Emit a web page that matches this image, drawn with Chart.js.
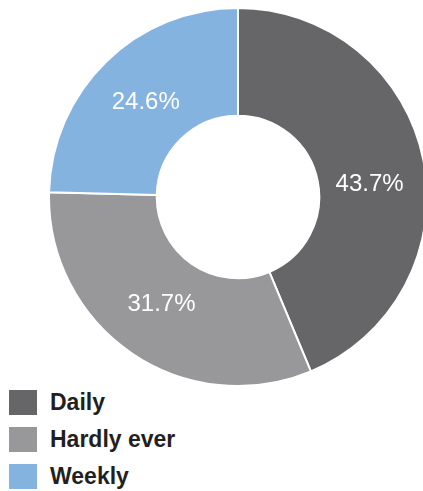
<!DOCTYPE html>
<html>
<head>
<meta charset="utf-8">
<script src="https://cdn.jsdelivr.net/npm/chart.js@4/dist/chart.umd.min.js"></script>
<style>
  html, body { margin: 0; padding: 0; background: #fff; overflow: hidden; }
  body { width: 423px; height: 491px; position: relative; font-family: "Liberation Sans", Arial, sans-serif; }
  .chart-box { position: absolute; left: 48px; top: 7px; width: 380px; height: 380px; }
  .legend { position: absolute; left: 9px; top: 390px; }
  .legend-item { display: flex; align-items: center; height: 25px; margin-bottom: 12px; }
  .legend-box { width: 28px; height: 25px; margin-right: 13px; }
  .legend-text { font-size: 23px; font-weight: bold; color: #231f20; }
</style>
</head>
<body>
<div class="chart-box"><canvas id="myChart" width="380" height="380"></canvas></div>
<div class="legend" id="legend"></div>
<script>
const kategooriad = ["Daily", "Hardly ever", "Weekly"];
const protsendid = [43.7, 31.7, 24.6];
const värvid = ["#666668", "#98989b", "#85b3df"];

// silt Daily on pildil natuke allapoole nihutatud
const sildiNihe = [6, 1, 0];

const sildiPlugin = {
  id: "sildid",
  afterDatasetsDraw(chart) {
    const ctx = chart.ctx;
    const meta = chart.getDatasetMeta(0);
    ctx.save();
    ctx.fillStyle = "#ffffff";
    ctx.font = "24px 'Liberation Sans', Arial, sans-serif";
    ctx.textAlign = "center";
    ctx.textBaseline = "middle";
    meta.data.forEach((arc, i) => {
      const p = arc.getProps(["x", "y", "startAngle", "endAngle", "innerRadius", "outerRadius"], true);
      const nurk = (p.startAngle + p.endAngle) / 2 + (sildiNihe[i] * Math.PI) / 180;
      const r = (p.innerRadius + p.outerRadius) / 2 - 3;
      ctx.fillText(protsendid[i].toFixed(1) + "%", p.x + Math.cos(nurk) * r, p.y + Math.sin(nurk) * r);
    });
    ctx.restore();
  },
};

const ctx = document.getElementById("myChart").getContext("2d");
const myChart = new Chart(ctx, {
  type: "doughnut",
  data: {
    labels: kategooriad,
    datasets: [
      {
        data: protsendid,
        backgroundColor: värvid,
        borderColor: "#ffffff",
        borderWidth: 2,
      },
    ],
  },
  options: {
    responsive: false,
    animation: false,
    cutout: "43%",
    layout: { padding: 0 },
    plugins: {
      legend: { display: false },
      tooltip: { enabled: false },
    },
  },
  plugins: [sildiPlugin],
});

const legend = document.getElementById("legend");
kategooriad.forEach((nimi, i) => {
  const rida = document.createElement("div");
  rida.className = "legend-item";
  rida.innerHTML =
    '<div class="legend-box" style="background:' + värvid[i] + '"></div><span class="legend-text">' + nimi + "</span>";
  legend.appendChild(rida);
});
</script>
</body>
</html>
